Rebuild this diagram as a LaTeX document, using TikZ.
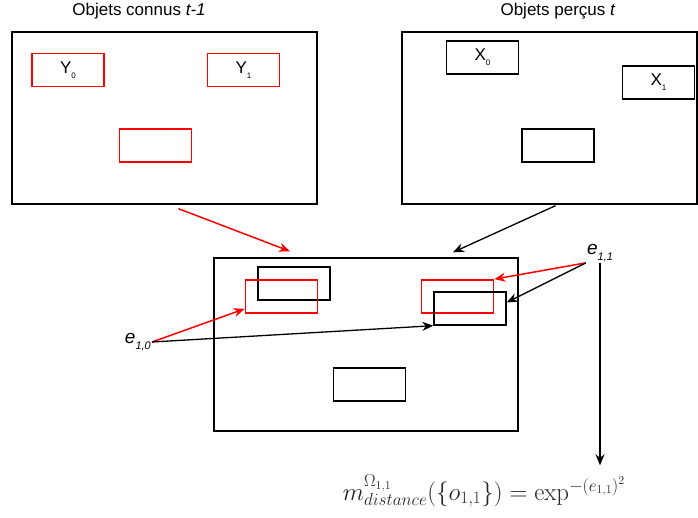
\documentclass[tikz,border=0pt]{standalone}
\usepackage[no-math]{fontspec}
\setmainfont{Liberation Sans}
\usetikzlibrary{arrows.meta,positioning}
\newcommand{\lowidx}[2][8]{\raisebox{-0.3em}{\fontsize{#1}{#1}\selectfont #2}}
\tikzset{
	objet/.style = {
		rectangle, draw,
		line width = 1.4pt,
		minimum width = 72pt, minimum height = 33pt,
		inner sep = 0pt,
		font = \fontsize{17}{17}\selectfont
		},
	connu/.style = {objet, draw = red, line width = 1.7pt},
	cadre/.style = {rectangle, draw, line width = 1.4pt, inner sep = 0pt},
	titre/.style = {anchor = base, font = \fontsize{17}{17}\selectfont},
	erreur/.style = {inner sep = 1pt, font = \fontsize{19}{19}\selectfont\itshape},
	fleche/.style = {-{Stealth[length=11pt,width=9pt]}, line width = 1.3pt},
	flecherouge/.style = {fleche, red, line width = 1.5pt}
}

\begin{document}
\begin{tikzpicture}[x=1pt, y=-1pt]
	\useasboundingbox (0,0) rectangle (698,518);
	% objets connus
	\node[cadre, minimum width=305pt, minimum height=172pt] (connus) at (164.5,118) {};
	\node[titre] (tconnus) at (139,16) {Objets connus \textit{t-1}};
	\node[connu] (y0) at (68,70) {Y\lowidx{0}};
	\node[connu] (y1) at (243.5,70) {Y\lowidx{1}};
	\node[connu] (y2) at (155.5,145.5) {};
	% objets percus
	\node[cadre, minimum width=295pt, minimum height=172pt] (percus) at (549.5,118) {};
	\node[titre] (tpercus) at (558,16) {Objets perçus \textit{t}};
	\node[objet] (x0) at (482.5,57.5) {X\lowidx{0}};
	\node[objet] (x1) at (658.5,82.5) {X\lowidx{1}};
	\node[objet] (x2) at (558,145.5) {};
	% superposition
	\node[cadre, minimum width=304pt, minimum height=173pt] (fusion) at (366,344.5) {};
	\node[objet] (noir1) at (294,283.5) {};
	\node[connu] (rouge1) at (281.5,296.5) {};
	\node[connu] (rouge2) at (457.5,296.5) {};
	\node[objet] (noir2) at (470,308.5) {};
	\node[objet] (noir3) at (369.5,384.5) {};
	\draw[flecherouge] ([xshift=14pt,yshift=-4pt]connus.south) -- ([xshift=-76pt,yshift=6pt]fusion.north);
	\draw[fleche] ([xshift=6pt,yshift=-1pt]percus.south) -- ([xshift=87pt,yshift=5pt]fusion.north);
	% erreurs
	\node[erreur, anchor=east] (e10) at (152,342) {e\lowidx[11]{\itshape 1,0}};
	\node[erreur] (e11) at (600,253) {e\lowidx[11]{\itshape 1,1}};
	\draw[flecherouge] (e10.east) -- ([yshift=5pt]rouge1.south west);
	\draw[fleche] (e10.east) -- (noir2.south west);
	\draw[flecherouge] (e11.south west) -- (rouge2.north east);
	\draw[fleche] (e11.south west) -- ([yshift=6pt]noir2.east);
	\node[font=\fontsize{23}{26}\selectfont, text=black!85] (masse) at (484,491)
		{$m^{\Omega_{1,1}}_{distance}(\{o_{1,1}\}) = \exp^{-(e_{1,1})^2}$};
	\draw[fleche] (e11.south) -- ([yshift=6pt]e11.south |- masse.north);
\end{tikzpicture}
\end{document}
